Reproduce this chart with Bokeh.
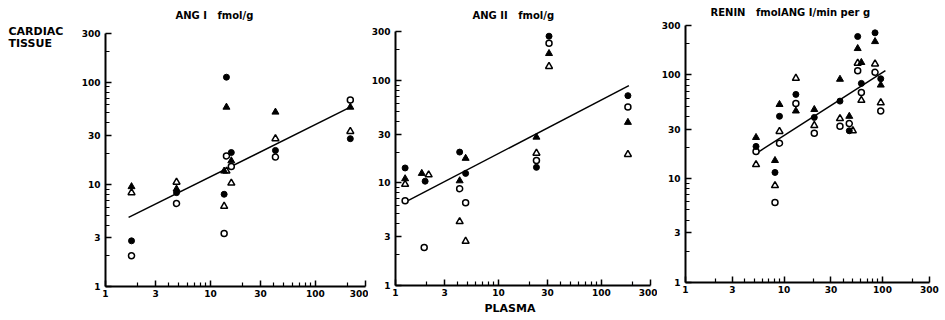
from bokeh.plotting import figure
from bokeh.layouts import row
from bokeh.models import FixedTicker, Range1d, PrintfTickFormatter, Title
from bokeh.core.properties import value
from bokeh.embed import file_html
from bokeh.resources import INLINE

# ---------------- data ----------------
TICKS = [1, 3, 10, 30, 100, 300]
MINOR = [2, 4, 5, 6, 7, 8, 9, 20, 40, 50, 60, 70, 80, 90, 200]

NB = "\u00a0"
titles = ["ANG I" + NB * 3 + "fmol/g", "ANG II" + NB * 3 + "fmol/g",
          "RENIN" + NB * 3 + "fmolANG I/min per g"]
side_text = ["CARDIAC", "TISSUE"]
x_title = "PLASMA"

# ANG I
ang1_fc_x = [1.77, 4.75, 13.5, 14.2, 15.8, 41.6, 215]
ang1_fc_y = [2.8, 8.3, 8.0, 112, 20.5, 21.5, 28]
ang1_oc_x = [1.77, 4.75, 13.5, 14.2, 15.8, 41.6, 215]
ang1_oc_y = [2.0, 6.5, 3.3, 19, 15, 18.5, 67]
ang1_ft_x = [1.77, 4.75, 13.5, 14.2, 15.8, 41.6, 215]
ang1_ft_y = [9.5, 9.0, 13.5, 57, 17, 51, 57]
ang1_ot_x = [1.77, 4.75, 13.5, 14.2, 15.8, 41.6, 215]
ang1_ot_y = [8.3, 10.5, 6.1, 13.5, 10.3, 28, 33]
ang1_fit_x = [1.66, 215]
ang1_fit_y = [4.75, 57]

# ANG II
ang2_fc_x = [1.24, 1.94, 4.2, 4.8, 23.4, 31, 181]
ang2_fc_y = [14, 10.4, 20, 12.4, 14.2, 270, 71]
ang2_oc_x = [1.24, 1.9, 4.2, 4.8, 23.4, 31, 181]
ang2_oc_y = [6.7, 2.35, 8.8, 6.4, 16.6, 230, 55]
ang2_ft_x = [1.24, 1.8, 4.2, 4.8, 23.4, 31, 181]
ang2_ft_y = [11, 12.4, 10.5, 17.4, 28, 183, 39]
ang2_ot_x = [1.24, 2.1, 4.2, 4.8, 23.4, 31, 181]
ang2_ot_y = [9.7, 12, 4.2, 2.7, 19.5, 137, 19]
ang2_fit_x = [1.24, 185]
ang2_fit_y = [6.5, 89]

# RENIN
ren_fc_x = [5.2, 8.1, 9.0, 13.2, 20.3, 37, 46, 56, 61, 84, 96]
ren_fc_y = [20.5, 11.5, 40, 65, 39, 56, 29, 235, 83, 255, 92]
ren_oc_x = [5.2, 8.1, 9.0, 13.2, 20.3, 37, 46, 56, 61, 84, 96]
ren_oc_y = [18.3, 5.9, 22, 53, 27.4, 32, 34, 110, 68, 106, 45]
ren_ft_x = [5.2, 8.1, 9.0, 13.2, 20.3, 37, 46, 56, 61, 84, 96]
ren_ft_y = [25, 15, 52, 45, 46.5, 91, 40, 180, 132, 210, 80]
ren_ot_x = [5.2, 8.1, 9.0, 13.2, 20.3, 37, 50, 56, 61, 84, 96]
ren_ot_y = [13.7, 8.6, 28.6, 93, 32.6, 38, 29, 130, 57, 128, 54]
ren_fit_x = [5.2, 107]
ren_fit_y = [17.5, 110]

FONT = "DejaVu Sans"
TOP = 6  # frame top (page px) shared by all panels


def make_panel(title, fw, bl, br, y300_px, y1_px, title_dx, title_cy):
    """fw: frame width; y300_px / y1_px: page rows of the 300 and 1 ticks."""
    ppd = (y1_px - y300_px) / 2.4771
    fh = y1_px - TOP
    yend = 10 ** ((y1_px - TOP) / ppd)
    p = figure(x_axis_type="log", y_axis_type="log",
               x_range=Range1d(1, 300), y_range=Range1d(1, yend),
               frame_width=fw, frame_height=fh,
               min_border_left=bl, min_border_right=br,
               min_border_top=TOP, min_border_bottom=320 - y1_px,
               output_backend="svg", toolbar_location=None)
    p.grid.visible = False
    p.outline_line_color = None
    p.background_fill_color = "white"
    p.border_fill_color = "white"
    for ax in (p.xaxis[0], p.yaxis[0]):
        ax.ticker = FixedTicker(ticks=TICKS, minor_ticks=MINOR)
        ax.formatter = PrintfTickFormatter(format="%d")
        ax.bounds = (1, 300)
        ax.axis_line_width = 2
        ax.axis_line_color = "black"
        ax.major_tick_in = 6
        ax.major_tick_out = 0
        ax.minor_tick_in = 4
        ax.minor_tick_out = 0
        ax.major_tick_line_width = 1.5
        ax.minor_tick_line_width = 1.2
        ax.major_label_text_font = FONT
        ax.major_label_text_font_size = "9px"
        ax.major_label_text_font_style = "bold"
        ax.major_label_text_color = "black"
    p.xaxis.major_label_standoff = 3
    p.yaxis.major_label_standoff = 5
    # panel title, written inside the frame above the end of the y axis
    xppd = fw / 2.4771
    tx = 10 ** (title_dx / xppd)
    ty = 10 ** ((y1_px - title_cy) / ppd)
    p.text(x=[tx], y=[ty], text=[title], text_baseline="middle", text_align="left",
           text_font=value(FONT), text_font_size="10px", text_font_style="bold",
           text_color="black")
    return p


def add_points(p, fc, oc, ft, ot, fit):
    p.line(fit[0], fit[1], line_color="black", line_width=1.5)
    p.scatter(ot[0], ot[1], marker="triangle", size=7, fill_color="white",
              line_color="black", line_width=1.5)
    p.scatter(ft[0], ft[1], marker="triangle", size=7, fill_color="black",
              line_color="black")
    p.scatter(oc[0], oc[1], marker="circle", size=6, fill_color="white",
              line_color="black", line_width=1.5)
    p.scatter(fc[0], fc[1], marker="circle", size=6, fill_color="black",
              line_color="black")


# left strip holding the "CARDIAC TISSUE" caption (data units = page pixels)
p0 = figure(frame_width=75, frame_height=280, x_range=Range1d(0, 75),
            y_range=Range1d(286, TOP), min_border_left=0, min_border_right=0,
            min_border_top=TOP, min_border_bottom=34,
            x_axis_location=None, y_axis_location=None,
            output_backend="svg", toolbar_location=None)
p0.grid.visible = False
p0.outline_line_color = None
p0.text(x=[8, 8], y=[31, 43], text=side_text, text_baseline="middle",
        text_align="left", text_font=value(FONT), text_font_size="11px",
        text_font_style="bold", text_color="black")

p1 = make_panel(titles[0], 260, 30, 3, 33, 286, 70, 15)
add_points(p1, (ang1_fc_x, ang1_fc_y), (ang1_oc_x, ang1_oc_y),
           (ang1_ft_x, ang1_ft_y), (ang1_ot_x, ang1_ot_y), (ang1_fit_x, ang1_fit_y))

p2 = make_panel(titles[1], 255, 25, 7, 31, 285, 77, 15)
add_points(p2, (ang2_fc_x, ang2_fc_y), (ang2_oc_x, ang2_oc_y),
           (ang2_ft_x, ang2_ft_y), (ang2_ot_x, ang2_ot_y), (ang2_fit_x, ang2_fit_y))
p2.add_layout(Title(text=x_title, align="left", offset=89, text_font=FONT,
                    text_font_size="11px", text_font_style="bold",
                    text_color="black", standoff=2), "below")

p3 = make_panel(titles[2], 244, 28, 18, 25, 282, 25, 12)
add_points(p3, (ren_fc_x, ren_fc_y), (ren_oc_x, ren_oc_y),
           (ren_ft_x, ren_ft_y), (ren_ot_x, ren_ot_y), (ren_fit_x, ren_fit_y))

layout = row(p0, p1, p2, p3, spacing=0)
open("out.html", "w").write(file_html(layout, INLINE))
